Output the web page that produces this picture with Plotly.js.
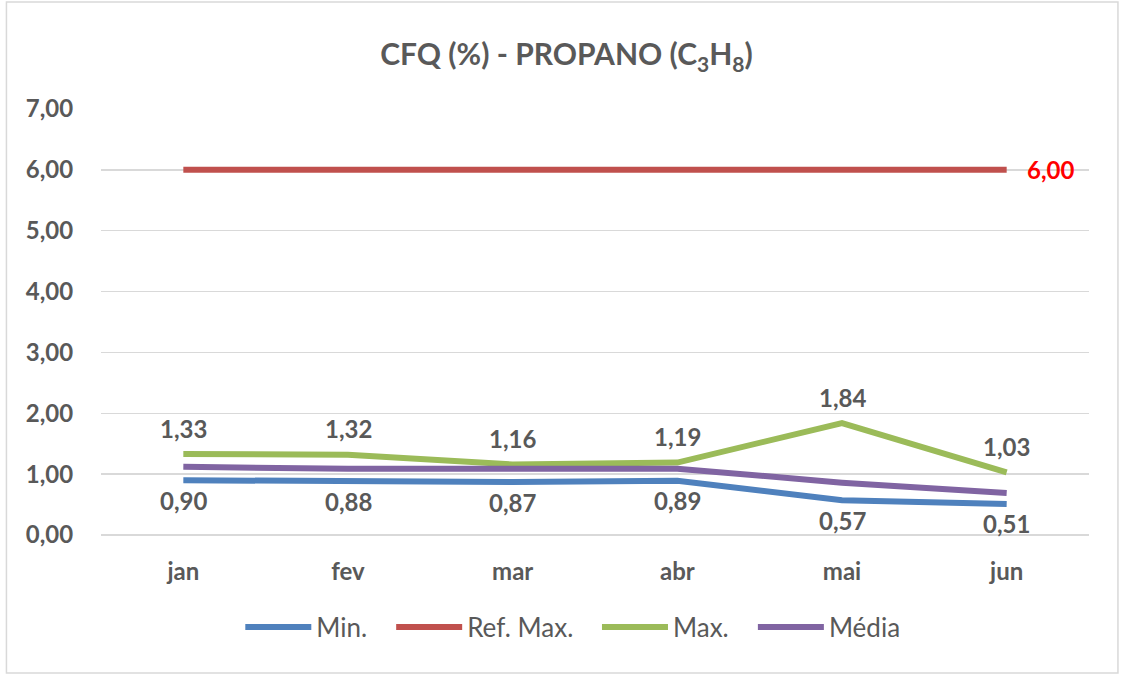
<!DOCTYPE html>
<html>
<head>
<meta charset="utf-8">
<script src="https://cdn.plot.ly/plotly-3.0.1.min.js"></script>
<style>html,body{margin:0;padding:0;background:#fff;}#chart{width:1124px;height:677px;}</style>
</head>
<body>
<div id="chart"></div>
<script>
const months = ['jan', 'fev', 'mar', 'abr', 'mai', 'jun'];
const minVals = [0.90, 0.88, 0.87, 0.89, 0.57, 0.51];
const refMax = [6.00, 6.00, 6.00, 6.00, 6.00, 6.00];
const maxVals = [1.33, 1.32, 1.16, 1.19, 1.84, 1.03];
const mediaVals = [1.12, 1.09, 1.09, 1.09, 0.86, 0.69];
const yTicks = [0, 1, 2, 3, 4, 5, 6, 7];

const fmt = v => v.toFixed(2).replace('.', ',');
const FONT = 'Lato, "Open Sans", sans-serif';
const GREY = '#595959';

function line(name, y, color, legendId) {
  return {type: 'scatter', mode: 'lines', name: name, x: months, y: y, legend: legendId,
    line: {color: color, width: 6}, hoverinfo: 'skip'};
}

const traces = [
  line('Min.', minVals, '#4F81BD', 'legend'),
  line('Ref. Max.', refMax, '#C0504D', 'legend2'),
  line('Max.', maxVals, '#9BBB59', 'legend3'),
  line('Média', mediaVals, '#8064A2', 'legend4')
];

const annotations = [];
months.forEach((m, i) => {
  annotations.push({x: m, y: maxVals[i], text: fmt(maxVals[i]), showarrow: false,
    yshift: 26, font: {family: FONT, size: 24, color: GREY, weight: 'bold'}});
  annotations.push({x: m, y: minVals[i], text: fmt(minVals[i]), showarrow: false,
    yshift: -20, font: {family: FONT, size: 24, color: GREY, weight: 'bold'}});
});
const last = months.length - 1;
annotations.push({x: months[last], y: refMax[last], text: fmt(refMax[last]), showarrow: false,
  xanchor: 'left', xshift: 18, font: {family: FONT, size: 24, color: '#FF0000', weight: 'bold'}});

function leg(x) {
  return {orientation: 'h', x: x, xanchor: 'left', y: -0.216, yanchor: 'middle',
    font: {family: FONT, size: 26, color: GREY}, itemwidth: 66, bgcolor: 'rgba(0,0,0,0)'};
}

const layout = {
  width: 1124, height: 677,
  margin: {l: 100.6, r: 34.6, t: 109, b: 142},
  paper_bgcolor: '#ffffff', plot_bgcolor: '#ffffff',
  separators: ',.',
  title: {text: 'CFQ (%) - PROPANO (C<sub>3</sub>H<sub>8</sub>)', x: 0.504, xanchor: 'center',
    y: 0.919, yanchor: 'middle', font: {family: FONT, size: 30, color: GREY, weight: 'bold'}},
  xaxis: {type: 'category', categoryarray: months, range: [-0.5, 5.5], showgrid: false, zeroline: false,
    showline: false, ticks: 'outside', ticklen: 15, tickcolor: 'rgba(0,0,0,0)',
    tickfont: {family: FONT, size: 24, color: GREY, weight: 'bold'}, fixedrange: true},
  yaxis: {range: [0, 7], tickvals: yTicks, ticktext: yTicks.map(fmt),
    showgrid: true, gridcolor: '#D9D9D9', gridwidth: 1.5, zeroline: true, zerolinecolor: '#D9D9D9', zerolinewidth: 1.5,
    showline: false, ticks: 'outside', ticklen: 22, tickcolor: 'rgba(0,0,0,0)',
    tickfont: {family: FONT, size: 24, color: GREY, weight: 'bold'}, fixedrange: true},
  showlegend: true,
  legend: leg(0.1410),
  legend2: leg(0.2937),
  legend3: leg(0.5020),
  legend4: leg(0.6598),
  annotations: annotations,
  shapes: [{type: 'rect', xref: 'paper', yref: 'paper', x0: -0.0957, x1: 1.0293, y0: -0.324, y1: 1.251,
    line: {color: '#D9D9D9', width: 1.5}, fillcolor: 'rgba(0,0,0,0)', layer: 'below'}]
};

Plotly.newPlot('chart', traces, layout, {displayModeBar: false, staticPlot: true});
</script>
</body>
</html>
